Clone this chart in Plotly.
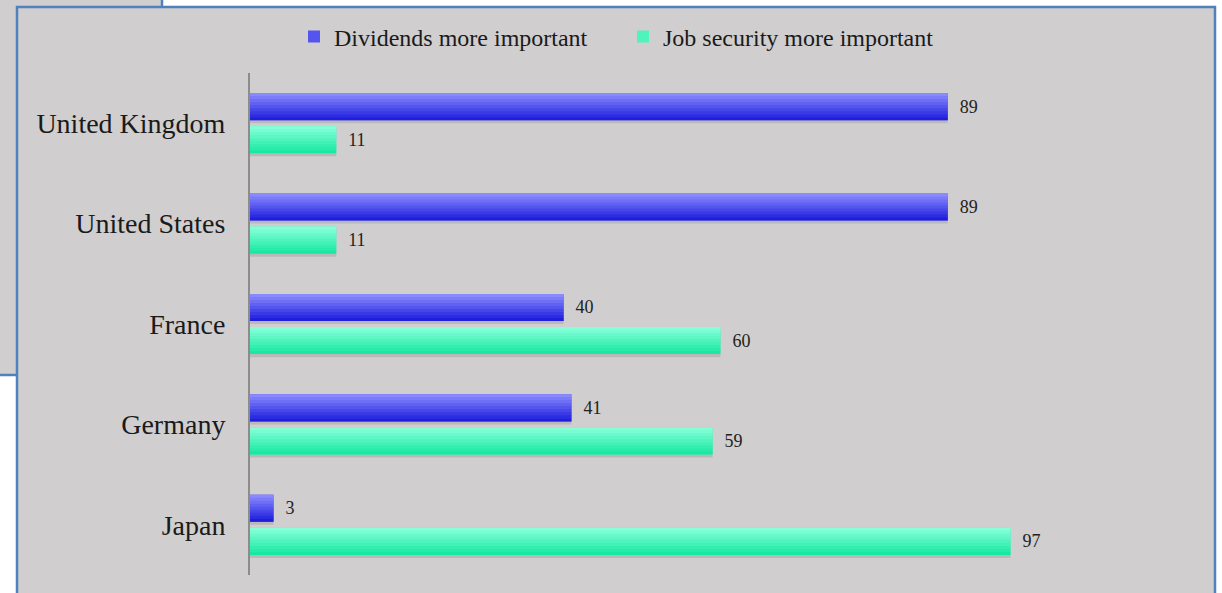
import plotly.graph_objects as go

# ---------------- data ----------------
countries = ["United Kingdom", "United States", "France", "Germany", "Japan"]
dividends = [89, 89, 40, 41, 3]
job_security = [11, 11, 60, 59, 97]
series_names = ["Dividends more important", "Job security more important"]

# ---------------- geometry / style ----------------
W, H = 1222, 593
ML, MR, MT, MB = 250, 188, 73, 18
XMAX = 100
BAR_W = 0.27
GAP = 0.06
N_STRIPES = 9
FONT = "Liberation Serif"
GRAY = "#d0cece"
BLUE = "#4f81bd"

div_top, div_bot = (0x8a, 0x8a, 0xff), (0x1e, 0x1e, 0xdc)
job_top, job_bot = (0x86, 0xff, 0xd8), (0x18, 0xe8, 0xa2)


def lerp(c1, c2, t):
    return "rgb(%d,%d,%d)" % tuple(round(a + (b - a) * t) for a, b in zip(c1, c2))


def px_x(p):
    return (p - ML) / (W - ML - MR)


def px_y(p):
    return (H - MB - p) / (H - MT - MB)


fig = go.Figure()

series = [
    (series_names[0], dividends, -GAP / 2 - BAR_W, div_top, div_bot),
    (series_names[1], job_security, GAP / 2, job_top, job_bot),
]

for name, vals, off, ctop, cbot in series:
    # soft shadow
    fig.add_trace(go.Bar(
        y=countries, x=vals, orientation="h", offset=off + 0.03, width=BAR_W,
        marker=dict(color="rgba(90,90,90,0.18)", line=dict(width=0)),
        showlegend=False, hoverinfo="skip"))
    # main bar (legend + value label)
    fig.add_trace(go.Bar(
        y=countries, x=vals, orientation="h", name=name, offset=off, width=BAR_W,
        marker=dict(color=lerp(ctop, cbot, 0.5), line=dict(width=0)),
        texttemplate="\u00a0\u00a0%{x}", textposition="outside",
        textfont=dict(family=FONT, size=18, color="#222222"),
        constraintext="none", cliponaxis=False))
    # gradient stripes
    for i in range(N_STRIPES):
        fig.add_trace(go.Bar(
            y=countries, x=vals, orientation="h",
            offset=off + i * BAR_W / N_STRIPES,
            width=BAR_W / N_STRIPES + (0.004 if i < N_STRIPES - 1 else 0),
            marker=dict(color=lerp(ctop, cbot, i / (N_STRIPES - 1)), line=dict(width=0)),
            showlegend=False, hoverinfo="skip"))

shapes = [
    # box behind (top-left)
    dict(type="rect", xref="paper", yref="paper",
         x0=px_x(-20), x1=px_x(162), y0=px_y(-20), y1=px_y(375),
         fillcolor=GRAY, line=dict(color=BLUE, width=2.5), layer="below"),
    # main chart box
    dict(type="rect", xref="paper", yref="paper",
         x0=px_x(17), x1=px_x(1215), y0=px_y(7), y1=px_y(620),
         fillcolor=GRAY, line=dict(color=BLUE, width=2.5), layer="below"),
]

fig.update_layout(
    width=W, height=H,
    margin=dict(l=ML, r=MR, t=MT, b=MB),
    paper_bgcolor="white", plot_bgcolor="rgba(0,0,0,0)",
    barmode="overlay",
    font=dict(family=FONT, color="#1a1a1a"),
    showlegend=True,
    legend=dict(orientation="h", xref="container", yref="container",
                x=294 / W, xanchor="left", y=1 - 37 / H, yanchor="middle",
                font=dict(family=FONT, size=24, color="#1a1a1a"),
                bgcolor="rgba(0,0,0,0)", itemwidth=30,
                entrywidth=284, entrywidthmode="pixels"),
    xaxis=dict(range=[0, XMAX], visible=False, fixedrange=True),
    yaxis=dict(autorange="reversed", showline=True, linecolor="#8c8c8c", linewidth=2,
               showgrid=False, ticks="", ticklabelstandoff=17,
               tickfont=dict(family=FONT, size=28, color="#1a1a1a"), fixedrange=True),
    shapes=shapes,
)

fig.write_html("out.html")
